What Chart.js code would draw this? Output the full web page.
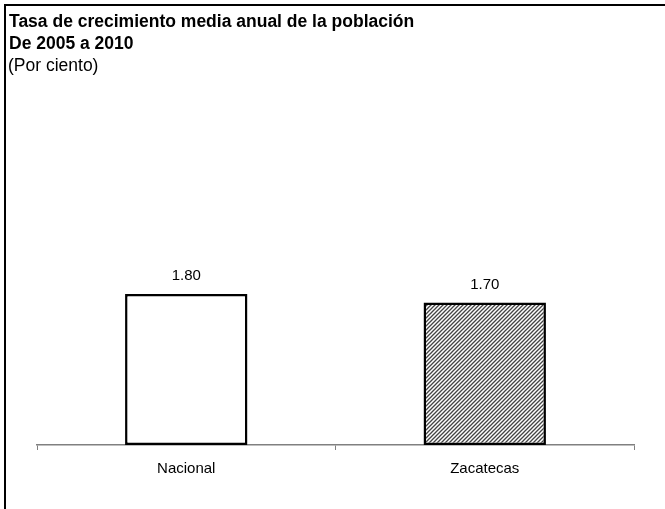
<!DOCTYPE html>
<html>
<head>
<meta charset="utf-8">
<script src="https://cdn.jsdelivr.net/npm/chart.js@4"></script>
<style>
  html, body { margin: 0; padding: 0; background: #fff; }
  #wrap { width: 665px; height: 509px; position: relative; }
</style>
</head>
<body>
<div id="wrap"><canvas id="myChart" width="665" height="509"></canvas></div>
<script>
const categories = ['Nacional', 'Zacatecas'];
const values = [1.80, 1.70];
const valueLabels = ['1.80', '1.70'];
const titleLines = ['Tasa de crecimiento media anual de la población', 'De 2005 a 2010'];
const subtitleText = '(Por ciento)';

const FONT = '"Liberation Sans", Arial, sans-serif';

// diagonal hatch for the second bar
function hatch() {
  const c = document.createElement('canvas');
  c.width = 4; c.height = 4;
  const g = c.getContext('2d');
  g.fillStyle = '#fff';
  g.fillRect(0, 0, 4, 4);
  g.strokeStyle = '#444';
  g.lineWidth = 1.3;
  g.beginPath();
  g.moveTo(-1, 5); g.lineTo(5, -1);
  g.moveTo(-1, 1); g.lineTo(1, -1);
  g.moveTo(3, 5); g.lineTo(5, 3);
  g.stroke();
  return g.createPattern(c, 'repeat');
}

const ctx = document.getElementById('myChart').getContext('2d');

const framePlugin = {
  id: 'frame',
  beforeDraw(chart) {
    const c = chart.ctx;
    c.save();
    c.fillStyle = '#fff';
    c.fillRect(0, 0, chart.width, chart.height);
    c.strokeStyle = '#000';
    c.lineWidth = 2;
    c.beginPath();
    c.moveTo(5, chart.height); c.lineTo(5, 5); c.lineTo(chart.width, 5);
    c.stroke();
    // titles
    c.fillStyle = '#000';
    c.textBaseline = 'middle';
    c.textAlign = 'left';
    c.font = 'bold 17.5px ' + FONT;
    titleLines.forEach((t, i) => c.fillText(t, 9, 22 + i * 22));
    c.font = '17.5px ' + FONT;
    c.fillText(subtitleText, 8, 66);
    c.restore();
  }
};

const labelPlugin = {
  id: 'valueLabels',
  afterDatasetsDraw(chart) {
    const c = chart.ctx;
    const meta = chart.getDatasetMeta(0);
    c.save();
    c.fillStyle = '#000';
    c.font = '15px ' + FONT;
    c.textAlign = 'center';
    c.textBaseline = 'middle';
    meta.data.forEach((bar, i) => {
      c.fillText(valueLabels[i], bar.x, bar.y - 18);
    });
    c.restore();
  }
};

const myChart = new Chart(ctx, {
  type: 'bar',
  data: {
    labels: categories,
    datasets: [{
      data: values,
      backgroundColor: ['#ffffff', hatch()],
      borderColor: '#000',
      borderWidth: 2.5,
      borderSkipped: false,
      barPercentage: 0.82,
      categoryPercentage: 0.5
    }]
  },
  options: {
    responsive: false,
    animation: false,
    layout: { padding: { left: 37, right: 31, top: 30, bottom: 21 } },
    plugins: {
      legend: { display: false },
      tooltip: { enabled: false },
      title: { display: false }
    },
    scales: {
      x: {
        grid: {
          display: true,
          drawOnChartArea: false,
          drawTicks: true,
          tickLength: 5,
          color: '#808080',
          offset: true
        },
        border: { display: true, color: '#808080', width: 1.5 },
        ticks: { color: '#000', font: { family: FONT, size: 15 }, padding: 10 }
      },
      y: {
        display: false,
        min: 0,
        max: 4.95
      }
    }
  },
  plugins: [framePlugin, labelPlugin]
});
</script>
</body>
</html>
